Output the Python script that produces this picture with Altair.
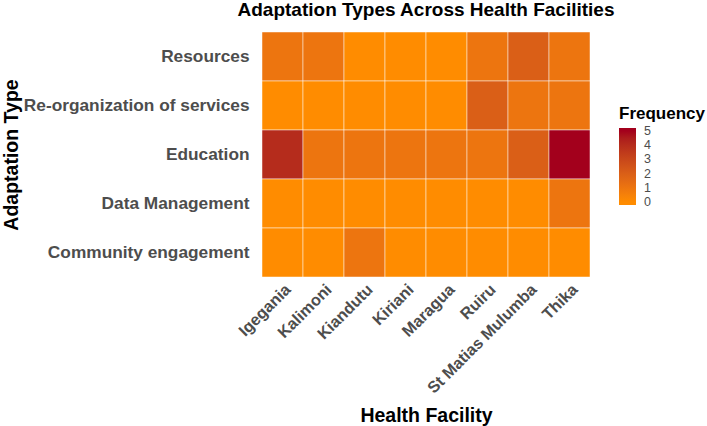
import altair as alt
import pandas as pd

facilities = ["Igegania", "Kalimoni", "Kiandutu", "Kiriani", "Maragua", "Ruiru",
              "St Matias Mulumba", "Thika"]
adaptation_types = ["Resources", "Re-organization of services", "Education",
                    "Data Management", "Community engagement"]

# frequency per adaptation type (rows) and facility (columns)
freq_resources = [1, 1, 0, 0, 0, 1, 2, 1]
freq_reorg = [0, 0, 0, 0, 0, 2, 1, 1]
freq_education = [4, 1, 1, 1, 1, 1, 2, 5]
freq_data = [0, 0, 0, 0, 0, 0, 0, 1]
freq_community = [0, 0, 1, 0, 0, 0, 0, 0]

legend_values = [0, 1, 2, 3, 4, 5]

rows = [freq_resources, freq_reorg, freq_education, freq_data, freq_community]
records = []
for atype, vals in zip(adaptation_types, rows):
    for fac, v in zip(facilities, vals):
        records.append({"Health Facility": fac, "Adaptation Type": atype, "Frequency": v})
df = pd.DataFrame(records)

FONT = "Liberation Sans"
PLOT_W, PLOT_H = 328, 245
LEFT, TOP = 262, 32
LOW, HIGH = "#FF8C00", "#A3001C"

# the colour bar runs a little past 0 and 5 so the end labels sit centred on their values
color_scale = alt.Scale(domain=[-0.2, 0, 5, 5.2], range=[LOW, LOW, HIGH, HIGH],
                        interpolate="lab")

chart = alt.Chart(df).mark_rect(
    stroke="white", strokeWidth=0.8, strokeOpacity=0.6
).encode(
    x=alt.X("Health Facility:N", sort=facilities,
            scale=alt.Scale(paddingInner=0, paddingOuter=0),
            axis=alt.Axis(labelAngle=315, labelAlign="right", labelBaseline="top",
                          labelFont=FONT, labelFontSize=16.2, labelFontWeight="bold",
                          labelColor="#4d4d4d", labelPadding=4, labelLimit=300,
                          ticks=False, domain=False,
                          titleFont=FONT, titleFontSize=19.5, titleFontWeight="bold",
                          titleColor="black", titleBaseline="alphabetic",
                          titleY=144, titleX=PLOT_W / 2)),
    y=alt.Y("Adaptation Type:N", sort=adaptation_types,
            scale=alt.Scale(paddingInner=0, paddingOuter=0),
            axis=alt.Axis(labelFont=FONT, labelFontSize=17.3, labelFontWeight="bold",
                          labelColor="#4d4d4d", labelPadding=13, labelLimit=300,
                          ticks=False, domain=False,
                          titleFont=FONT, titleFontSize=19.5, titleFontWeight="bold",
                          titleColor="black", titleAngle=270,
                          titleBaseline="alphabetic", titleAlign="center",
                          titleX=-245, titleY=PLOT_H / 2)),
    color=alt.Color("Frequency:Q", scale=color_scale,
                    legend=alt.Legend(title="Frequency", values=legend_values,
                                      orient="none", legendX=357, legendY=74,
                                      gradientLength=77, gradientThickness=17,
                                      gradientStrokeWidth=0, labelOverlap=False,
                                      titleFont=FONT, titleFontSize=17,
                                      titleFontWeight="bold", titleColor="black",
                                      titlePadding=5,
                                      labelFont=FONT, labelFontSize=12.5,
                                      labelColor="#4d4d4d", labelOffset=8)),
).properties(
    width=PLOT_W,
    height=PLOT_H,
    title=alt.TitleParams("Adaptation Types Across Health Facilities",
                          font=FONT, fontSize=19, fontWeight="bold",
                          color="black", anchor="middle", offset=12),
    autosize=alt.AutoSizeParams(type="none"),
    padding={"left": LEFT, "top": TOP, "right": 707 - LEFT - PLOT_W,
             "bottom": 426 - TOP - PLOT_H},
).configure_view(stroke=None)

chart.save("out.html", embed_options={"renderer": "svg", "actions": False})
